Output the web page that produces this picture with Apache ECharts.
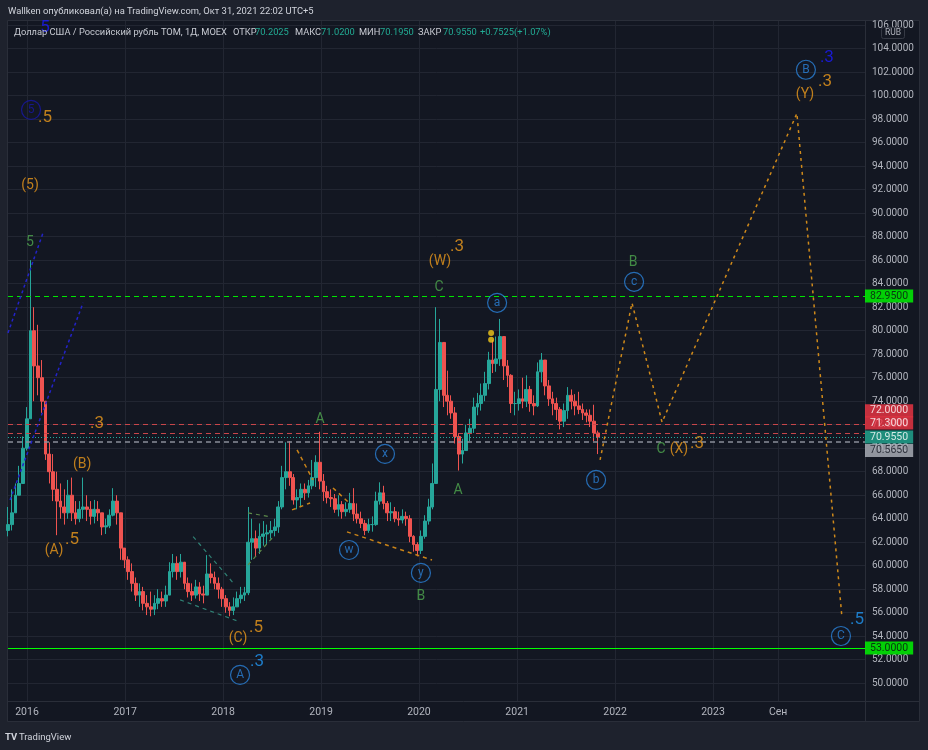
<!DOCTYPE html>
<html><head><meta charset="utf-8">
<script src="https://cdn.jsdelivr.net/npm/echarts@6/dist/echarts.min.js"></script>
<style>html,body{margin:0;padding:0;background:#1e222d;}#c{width:928px;height:750px;}</style>
</head><body><div id="c"></div>
<script>
// ---------- DATA ----------
// bi-weekly candles, starting 2015-10-22
const candleStartDate = '2015-10-22';
const candleStepDays = 14;
const firstOpen = 63.0;
const closes = [63.5,64.5,66.0,67.0,70.0,72.5,80.0,77.0,76.0,74.0,69.5,68.0,66.5,65.5,65.0,64.5,66.0,64.5,64.0,64.8,
65.0,64.8,64.2,64.8,64.5,63.3,63.4,64.3,65.5,64.5,61.5,60.5,59.5,58.5,57.5,57.8,56.8,56.5,56.3,56.8,
57.2,57.0,57.5,59.5,60.2,59.5,60.3,58.5,57.8,57.5,58.2,57.6,57.5,59.3,59.0,58.5,58.0,57.2,56.5,56.2,
56.5,57.2,57.5,57.7,62.0,62.3,61.5,62.5,62.7,62.8,63.0,63.3,65.0,67.5,68.0,67.5,65.6,65.8,66.5,66.2,
66.8,67.5,68.8,67.2,66.3,65.8,65.7,64.8,65.2,64.6,64.8,65.3,64.4,64.0,63.6,63.0,63.5,63.5,65.5,66.2,
65.3,64.5,64.6,64.0,63.9,64.2,64.0,62.5,61.8,61.3,62.5,63.8,65.0,67.0,75.0,79.0,74.5,74.0,73.0,71.0,
69.5,69.8,71.3,71.7,73.5,73.8,74.5,75.5,77.5,77.2,77.6,79.5,77.0,76.2,73.8,73.8,74.2,74.0,75.0,73.8,
73.6,76.5,77.5,75.3,74.2,73.8,73.3,72.3,73.2,74.5,74.0,73.6,73.3,73.0,72.8,72.3,71.3,70.955];
const highs = [65.0,66.5,67.0,68.5,71.0,73.5,86.0,82.0,80.5,77.5,74.0,70.5,69.5,68.0,67.0,66.5,67.3,67.5,65.5,65.5,
67.5,66.0,65.5,65.6,65.5,64.5,64.0,64.8,66.6,66.0,63.5,61.5,60.8,60.2,59.0,58.5,58.2,57.5,57.8,57.5,
58.0,57.8,58.3,60.3,61.0,60.8,61.0,60.0,59.0,58.5,58.8,58.6,58.3,60.9,60.2,59.5,59.0,58.2,57.5,56.9,
57.3,57.8,58.2,58.2,65.0,64.0,63.0,63.6,63.8,63.5,63.8,64.0,65.5,68.5,70.5,70.6,67.8,66.5,67.0,67.0,
67.3,69.0,69.4,71.4,67.8,66.8,66.5,66.1,66.0,65.5,65.4,66.2,66.6,65.3,64.6,63.9,64.0,64.2,66.3,67.1,
66.8,65.5,65.4,65.0,64.6,64.8,64.6,64.3,62.6,62.0,63.0,64.3,65.7,68.7,82.0,81.0,78.5,76.6,74.5,73.5,
71.2,70.8,72.0,72.5,74.3,74.7,75.5,76.5,78.2,79.2,79.5,81.0,79.0,77.5,76.3,74.8,75.0,76.0,76.2,75.3,
74.5,77.3,78.1,77.3,75.8,74.8,74.3,73.5,73.8,75.2,75.0,74.6,74.8,73.8,73.3,73.3,73.7,71.5];
const lows = [62.5,63.0,64.5,66.0,67.5,69.8,72.5,74.0,74.5,73.0,69.0,67.0,65.5,62.6,64.0,63.5,64.0,63.8,63.5,63.7,
64.0,63.8,63.5,63.6,63.8,62.6,62.7,63.2,64.2,63.5,60.5,59.8,58.8,57.8,57.0,56.5,56.2,55.8,55.7,55.8,
56.3,56.5,56.5,57.5,59.0,58.8,59.0,58.0,57.3,57.0,57.2,57.0,56.8,57.5,58.5,58.0,57.2,56.5,56.0,55.7,
55.8,56.5,56.8,57.0,57.5,60.5,60.8,61.0,61.7,61.8,62.3,62.5,62.8,64.8,66.5,66.8,65.2,64.8,65.0,65.6,
65.8,66.5,66.7,66.5,65.5,65.3,65.0,64.5,64.2,64.0,64.2,64.5,63.8,63.6,63.2,62.6,62.8,62.9,63.4,65.2,
64.8,63.8,63.8,63.7,63.4,63.6,63.4,62.0,61.2,60.8,61.0,62.3,63.5,64.8,68.0,74.0,73.5,72.8,72.5,70.4,
68.1,68.7,69.9,70.6,71.3,72.8,73.2,74.0,75.0,76.4,76.5,77.0,75.8,75.2,73.0,72.8,73.2,73.4,73.5,73.1,
72.8,73.5,75.6,74.5,73.6,72.8,72.4,71.6,71.8,72.5,73.3,72.8,72.9,72.4,72.2,71.8,70.6,69.5];

// tick labels
const priceTicks = [50,52,54,56,58,60,62,64,66,68,70,72,74,76,78,80,82,84,86,88,90,92,94,96,98,100,102,104,106];
const timeTickDates = ['2016-01-01','2017-01-01','2018-01-01','2019-01-01','2020-01-01','2021-01-01','2022-01-01','2023-01-01','2023-09-01'];
const timeTickLabels = ['2016','2017','2018','2019','2020','2021','2022','2023','Сен'];

// horizontal levels
const levelGreenDashed = 82.95;
const levelGreenSolid = 53.0;
const levelRed = [72.0, 71.3];
const levelTeal = 70.955;
const levelGray = 70.565;

// wave annotations [decimal year, price, text]
const orangeTags = [[2016.031,92.34,'(5)'],[2016.561,68.58,'(B)'],[2016.276,61.26,'(A)'],[2018.153,53.77,'(C)'],
  [2020.214,85.86,'(W)'],[2022.653,69.86,'(X)'],[2023.939,100.07,'(Y)']];
const orangeDegrees = [[2016.184,98.11,'.5'],[2016.714,72.07,'.3'],[2016.459,62.20,'.5'],[2018.337,54.71,'.5'],
  [2020.388,87.15,'.3'],[2022.837,70.37,'.3'],[2024.143,101.17,'.3']];
const greenTags = [[2016.031,87.47,'5'],[2018.990,72.41,'A'],[2020.020,57.34,'B'],[2020.204,83.65,'C'],
  [2020.398,66.37,'A'],[2022.184,85.77,'B'],[2022.469,69.86,'C']];
const blueCircles = [[2018.173,50.71,'A'],[2019.286,61.34,'w'],[2019.653,69.51,'x'],[2020.020,59.39,'y'],
  [2020.796,82.37,'a'],[2021.806,67.30,'b'],[2022.194,84.16,'c'],[2023.949,102.20,'B'],[2024.306,54.02,'C']];
const navyCircles = [[2016.041,98.79,'5']];
const lightBlueDegrees = [[2018.347,51.81,'.3'],[2024.469,55.39,'.5']];
const brightBlueDegrees = [[2016.184,105.77,'5'],[2024.163,103.22,'.3']];
const yellowDots = [[2020.735,79.81],[2020.735,79.22]];

// drawn lines [decimal year, price]
const blueChannelA = [[2015.806,79.81],[2016.163,88.32]];
const blueChannelB = [[2015.827,65.60],[2016.571,82.37]];
const tealWedgeA = [[2017.694,62.47],[2018.102,58.55]];
const tealWedgeB = [[2017.561,57.09],[2018.173,55.22]];
const greenFlagA = [[2018.255,64.50],[2018.480,64.16]];
const greenFlagB = [[2018.255,60.07],[2018.510,62.45]];
const orangeTrendA = [[2018.755,69.86],[2018.918,67.30]];
const orangeTrendB = [[2018.704,64.75],[2018.888,65.34]];
const orangeTrendC = [[2019.122,66.62],[2019.276,65.43]];
const orangeTrendD = [[2019.265,62.88],[2020.133,60.49]];
const projection = [[2021.847,69.0],[2022.173,82.36],[2022.480,72.21],[2023.857,98.49],[2024.316,55.62]];

// ---------- BUILD ----------
const yr = t => { const y = Math.floor(t); const a = Date.UTC(y,0,1), b = Date.UTC(y+1,0,1); return a + (t-y)*(b-a); };
const DAY = 86400000;
const cStart = Date.parse(candleStartDate + 'T00:00:00Z');
const candleData = closes.map((c,i)=>[cStart + i*candleStepDays*DAY, i===0?firstOpen:closes[i-1], c, lows[i], highs[i]]);
const X_MIN = yr(2015.806), X_MAX = yr(2024.551);
const tickTs = timeTickDates.map(d=>Date.parse(d+'T00:00:00Z'));
const tickMap = new Map(tickTs.map((t,i)=>[t,timeTickLabels[i]]));
const FONT = 'Roboto, "Noto Sans", sans-serif';

const pts = arr => arr.map(d=>[yr(d[0]), d[1], d[2]]);
function textSeries(arr, color, size){
  return {type:'scatter', silent:true, symbolSize:0, z:7, clip:false, data:pts(arr),
    label:{show:true, position:'inside', formatter:p=>p.data[2], color, fontSize:size, fontFamily:FONT}};
}
function circleSeries(arr, color, size){
  return {type:'scatter', silent:true, symbol:'circle', symbolSize:size, z:7, clip:false, data:pts(arr),
    itemStyle:{color:'rgba(0,0,0,0)', borderColor:color, borderWidth:1.2},
    label:{show:true, position:'inside', formatter:p=>p.data[2], color, fontSize:12, fontFamily:FONT}};
}
function lineSeries(arr, color, type, width){
  return {type:'line', silent:true, z:5, showSymbol:false, symbol:'none', data:arr.map(d=>[yr(d[0]),d[1]]),
    lineStyle:{color, type, width}, animation:false};
}

const gridMarks = priceTicks.map(v=>({yAxis:v})).concat(tickTs.map(t=>({xAxis:t})));
const levelMarks = [
  {yAxis:levelGreenDashed, lineStyle:{color:'#00e600', type:[5,4], width:1}},
  {yAxis:levelGreenSolid, lineStyle:{color:'#00ff00', type:'solid', width:1.2}},
  ...levelRed.map(v=>({yAxis:v, lineStyle:{color:'#c8464a', type:[5,4], width:1}})),
  {yAxis:levelTeal, lineStyle:{color:'#26a69a', type:[1,2], width:1}},
  {yAxis:levelGray, lineStyle:{color:'#8a8e99', type:[5,4], width:1.5}}
];
const boxStyles = [
  {v:levelGreenDashed, bg:'#00ff00', fg:'#0b0e14', dy:0},
  {v:levelGreenSolid, bg:'#00ff00', fg:'#0b0e14', dy:0},
  {v:levelRed[0], bg:'#f23645', fg:'#ffffff', dy:-14},
  {v:levelRed[1], bg:'#f23645', fg:'#ffffff', dy:-10},
  {v:levelTeal, bg:'#22ab94', fg:'#ffffff', dy:0},
  {v:levelGray, bg:'#b2b5be', fg:'#131722', dy:9}
];

const T = (text, x, y, fill, size, extra) => Object.assign({type:'text', z:50,
  style:Object.assign({text, x, y, fill, font:size+'px '+FONT, verticalAlign:'middle'}, extra||{})});
const TITLE_C = '#c8cbd3', VAL_C = '#22ab94', TS = 9.3;

const option = {
  backgroundColor:'#1e222d',
  animation:false,
  grid:{left:8, right:63, top:21, bottom:49, show:false},
  xAxis:{type:'value', min:X_MIN, max:X_MAX, axisLine:{show:false}, axisTick:{show:false}, splitLine:{show:false},
    axisLabel:{customValues:tickTs, formatter:v=>tickMap.get(v)||'', color:'#b2b5be', fontSize:10.5, margin:6, fontFamily:FONT}},
  yAxis:{type:'value', position:'right', min:48.49, max:106.35, axisLine:{show:false}, axisTick:{show:false}, splitLine:{show:false},
    axisLabel:{customValues:priceTicks, formatter:v=>v.toFixed(4), color:'#b2b5be', fontSize:10, margin:7, fontFamily:FONT}},
  graphic:[
    {type:'rect', z:-100, shape:{x:7.5,y:20.5,width:912,height:701}, style:{fill:'#131722', stroke:'#2a2e39', lineWidth:1}},
    {type:'line', z:-50, shape:{x1:865.5,y1:20,x2:865.5,y2:722}, style:{stroke:'#2a2e39', lineWidth:1}},
    {type:'line', z:-50, shape:{x1:7,y1:701.5,x2:920,y2:701.5}, style:{stroke:'#2a2e39', lineWidth:1}},
    T('Wallken опубликовал(а) на TradingView.com, Окт 31, 2021 22:02 UTC+5', 8, 12, '#d1d4dc', 9.4),
    T('Доллар США / Российский рубль ТОМ, 1Д, MOEX', 14, 33, TITLE_C, TS),
    T('ОТКР', 233, 33, TITLE_C, TS), T('70.2025', 255, 33, VAL_C, TS),
    T('МАКС', 295, 33, TITLE_C, TS), T('71.0200', 321, 33, VAL_C, TS),
    T('МИН', 359, 33, TITLE_C, TS), T('70.1950', 380, 33, VAL_C, TS),
    T('ЗАКР', 418, 33, TITLE_C, TS), T('70.9550', 443, 33, VAL_C, TS),
    T('+0.7525', 480, 33, VAL_C, TS), T('(+1.07%)', 514, 33, VAL_C, TS),
    {type:'rect', z:50, shape:{x:881.5,y:27.5,width:23,height:11,r:2}, style:{fill:'#131722', stroke:'#363a45', lineWidth:1}},
    T('RUB', 893, 33, '#b2b5be', 8.5, {align:'center'}),
    T('TV', 5, 738, '#d1d4dc', 9.5, {font:'bold 9.5px '+FONT}),
    T('TradingView', 19, 738, '#d1d4dc', 9.5)
  ],
  series:[
    {type:'line', silent:true, data:[[X_MIN,48.49]], showSymbol:false, lineStyle:{width:0}, z:1,
      markLine:{silent:true, symbol:'none', z:1, label:{show:false}, lineStyle:{color:'#222632', type:'solid', width:1}, data:gridMarks}},
    {type:'candlestick', z:3, barWidth:3.3, data:candleData, encode:{x:0, y:[1,2,3,4]},
      itemStyle:{color:'#26a69a', color0:'#ef5350', borderColor:'#26a69a', borderColor0:'#ef5350', borderWidth:1}},
    {type:'line', silent:true, data:[[X_MIN,48.49]], showSymbol:false, lineStyle:{width:0}, z:4,
      markLine:{silent:true, symbol:'none', z:4, label:{show:false}, data:levelMarks}},
    lineSeries(blueChannelA,'#2323c8',[3,3],1.5),
    lineSeries(blueChannelB,'#2323c8',[3,3],1.5),
    lineSeries(tealWedgeA,'#2f7f73',[4,4],1.2),
    lineSeries(tealWedgeB,'#2f7f73',[4,4],1.2),
    lineSeries(greenFlagA,'#5d8a4a',[4,4],1.2),
    lineSeries(greenFlagB,'#5d8a4a',[4,4],1.2),
    lineSeries(orangeTrendA,'#c98318',[4,4],1.5),
    lineSeries(orangeTrendB,'#c98318',[4,4],1.5),
    lineSeries(orangeTrendC,'#c98318',[4,4],1.5),
    lineSeries(orangeTrendD,'#c98318',[4,4],1.5),
    lineSeries(projection,'#d08a1a',[3,4],1.5),
    {type:'scatter', silent:true, symbolSize:6, z:6, data:yellowDots.map(d=>[yr(d[0]),d[1]]), itemStyle:{color:'#f5cc1a'}},
    textSeries(orangeTags,'#ec9a1c',14),
    textSeries(orangeDegrees,'#ec9a1c',17),
    textSeries(greenTags,'#4fa84f',14),
    circleSeries(blueCircles,'#2a82da',19),
    circleSeries(navyCircles,'#1818a8',19),
    textSeries(lightBlueDegrees,'#2196f3',17),
    textSeries(brightBlueDegrees,'#1a1aff',17),
    {type:'scatter', silent:true, symbolSize:0, z:8, clip:false,
      data:boxStyles.map(b=>({value:[X_MAX,b.v], label:{backgroundColor:b.bg, color:b.fg, offset:[0,b.dy]}})),
      label:{show:true, position:'right', distance:0, formatter:p=>p.value[1].toFixed(4), fontSize:10.5, fontFamily:FONT, padding:[1,5,0,5], lineHeight:12}}
  ]
};
const chart = echarts.init(document.getElementById('c'));
chart.setOption(option);
</script>
</body></html>
